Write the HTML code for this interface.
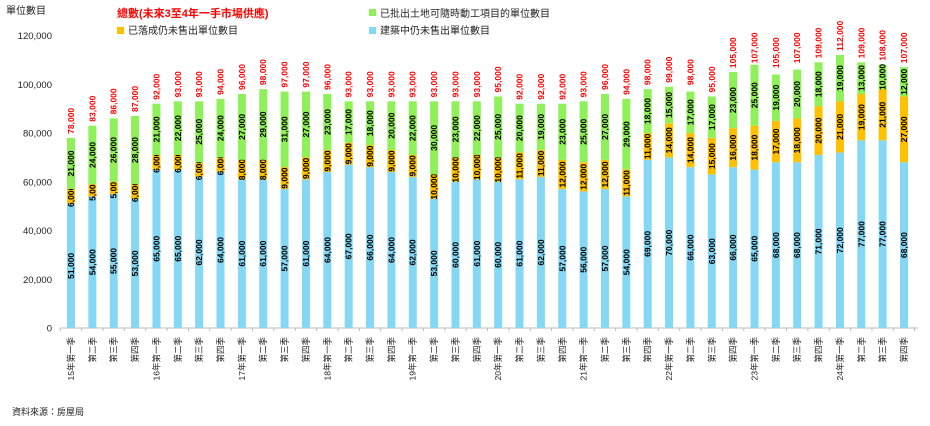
<!DOCTYPE html>
<html><head><meta charset="utf-8">
<style>
html,body{margin:0;padding:0;background:#fff;}
svg{display:block;font-family:"Liberation Sans","Noto Sans CJK TC",sans-serif;}
</style></head>
<body>
<svg id="chart" width="930" height="426" viewBox="0 0 930 426" xmlns="http://www.w3.org/2000/svg">
<text x="6" y="14" font-size="10" fill="#222">單位數目</text>
<g>
<text x="117" y="17" font-size="11" font-weight="bold" fill="#ff0000">總數(未來3至4年一手市場供應)</text>
<rect x="369" y="9" width="7" height="7" fill="#8ff05a"/>
<text x="380" y="17" font-size="10" fill="#222">已批出土地可隨時動工項目的單位數目</text>
<rect x="117" y="27" width="7" height="7" fill="#ffc000"/>
<text x="128" y="34" font-size="10" fill="#222">已落成仍未售出單位數目</text>
<rect x="369" y="27" width="7" height="7" fill="#84d8f5"/>
<text x="380" y="34" font-size="10" fill="#222">建築中仍未售出單位數目</text>
</g>
<g id="plot"></g>
<text x="12" y="415" font-size="9" fill="#222">資料來源：房屋局</text>
</svg>
<script>
const categories=["15年第一季","第二季","第三季","第四季","16年第一季","第二季","第三季","第四季","17年第一季","第二季","第三季","第四季","18年第一季","第二季","第三季","第四季","19年第一季","第二季","第三季","第四季","20年第一季","第二季","第三季","第四季","21年第一季","第二季","第三季","第四季","22年第一季","第二季","第三季","第四季","23年第一季","第二季","第三季","第四季","24年第一季","第二季","第三季","第四季"];
const underConstruction=[51000,54000,55000,53000,65000,65000,62000,64000,61000,61000,57000,61000,64000,67000,66000,64000,62000,53000,60000,61000,60000,61000,62000,57000,56000,57000,54000,69000,70000,66000,63000,66000,65000,68000,68000,71000,72000,77000,77000,68000];
const completedUnsold=[6000,5000,5000,6000,6000,6000,6000,6000,8000,8000,9000,9000,9000,9000,9000,9000,9000,10000,10000,10000,10000,11000,11000,12000,12000,12000,11000,11000,14000,14000,15000,16000,18000,17000,18000,20000,21000,19000,21000,27000];
const landReady=[21000,24000,26000,28000,21000,22000,25000,24000,27000,29000,31000,27000,23000,17000,18000,20000,22000,30000,23000,22000,25000,20000,19000,23000,25000,27000,29000,18000,15000,17000,17000,23000,25000,19000,20000,18000,19000,13000,10000,12000];
const totals=[78000,83000,86000,87000,92000,93000,93000,94000,96000,98000,97000,97000,96000,93000,93000,93000,93000,93000,93000,93000,95000,92000,92000,92000,93000,96000,94000,98000,99000,98000,95000,105000,107000,105000,107000,109000,112000,109000,108000,107000];
const yTicks=[0,20000,40000,60000,80000,100000,120000];

const NS="http://www.w3.org/2000/svg";
const plot=document.getElementById('plot');
const y0=328,yTop=35.5,yMax=120000;
const yScale=v=>y0-(v/yMax)*(y0-yTop);
const x0=71,step=(904-71)/39,bw=8;
const xScale=i=>x0+i*step;
const fmt=v=>v.toLocaleString('en-US');
function mk(tag,attrs,parent){const e=document.createElementNS(NS,tag);for(const k in attrs)e.setAttribute(k,attrs[k]);(parent||plot).appendChild(e);return e;}

yTicks.forEach(t=>{
  const tx=mk('text',{x:52,y:yScale(t)+3.5,'font-size':9.5,'text-anchor':'end',fill:'#222'});
  
  
  tx.textContent=fmt(t);
});
const axis=mk('line',{x1:60,x2:918,y1:y0,y2:y0,stroke:'#bbb','stroke-width':1});


for(let i=0;i<=categories.length;i++){
  const tk=mk('line',{x1:xScale(i)-step/2,x2:xScale(i)-step/2,y1:y0,y2:y0+3,stroke:'#bbb'});
  
  
}
function vlabel(x,y,txt,color,size,anchor){
  const t=mk('text',{x:0,y:0,transform:`translate(${x+3},${y}) rotate(-90)`,'font-size':size,'font-weight':'bold','text-anchor':anchor,fill:color});
  t.textContent=txt;return t;
}
categories.forEach((c,i)=>{
  const x=xScale(i);
  const segs=[[underConstruction[i],'#84d8f5','bar-under-construction'],[completedUnsold[i],'#ffc000','bar-completed-unsold'],[landReady[i],'#8ff05a','bar-land-ready']];
  let acc=0;
  segs.forEach(([v,col,name])=>{
    const yb=yScale(acc),yt=yScale(acc+v);
    const r=mk('rect',{x:x-bw/2,y:yt,width:bw,height:yb-yt,fill:col});
    
    
    const l=vlabel(x,(yb+yt)/2,fmt(v),'#000',8.5,'middle');
    
    
    acc+=v;
  });
  const tl=vlabel(x,yScale(totals[i])-4,fmt(totals[i]),'#ff0000',8.5,'start');
  
  
  const cl=mk('text',{x:0,y:0,transform:`translate(${x+3},${337}) rotate(-90)`,'font-size':8.5,'text-anchor':'end',fill:'#222'});
  
  
  cl.textContent=c;
});
</script>
</body></html>
